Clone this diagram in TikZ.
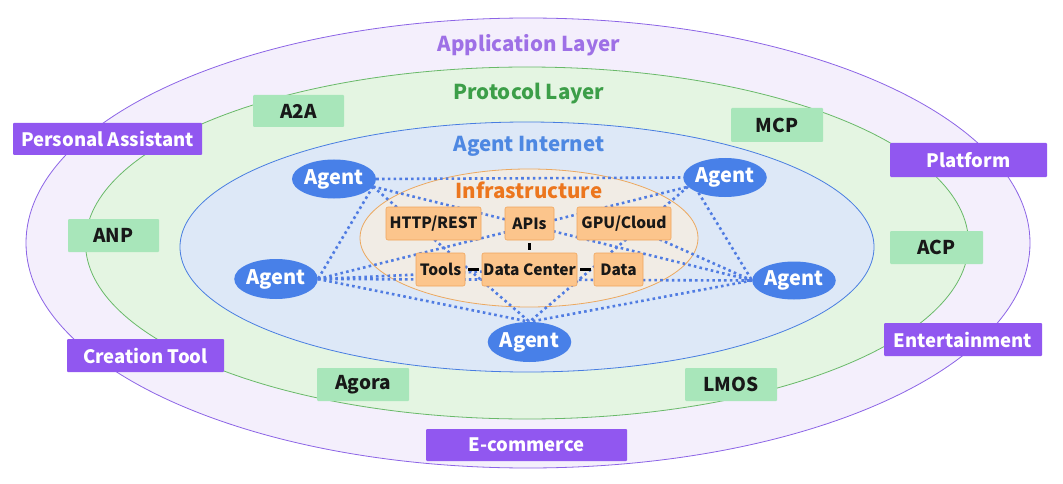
\documentclass[tikz,border=0pt]{standalone}
\usepackage{fontspec}
\setmainfont{Noto Sans CJK SC}
\usetikzlibrary{shapes.geometric}
\definecolor{appfill}{RGB}{244,239,252}
\definecolor{appline}{RGB}{140,100,230}
\definecolor{applabel}{RGB}{158,112,230}
\definecolor{protfill}{RGB}{228,245,226}
\definecolor{protline}{RGB}{105,185,105}
\definecolor{protlabel}{RGB}{60,158,72}
\definecolor{netfill}{RGB}{221,232,247}
\definecolor{netline}{RGB}{72,125,225}
\definecolor{netlabel}{RGB}{78,136,226}
\definecolor{infrafill}{RGB}{241,236,229}
\definecolor{infraline}{RGB}{236,168,95}
\definecolor{infralabel}{RGB}{236,118,30}
\definecolor{purplebox}{RGB}{145,87,240}
\definecolor{greenbox}{RGB}{168,230,186}
\definecolor{orangebox}{RGB}{252,197,140}
\definecolor{orangeedge}{RGB}{240,165,92}
\definecolor{agentfill}{RGB}{72,128,232}
\definecolor{dotblue}{RGB}{80,124,226}
\definecolor{darktext}{RGB}{24,24,24}
\pgfdeclarelayer{back}
\pgfdeclarelayer{mid}
\pgfsetlayers{back,mid,main}
\tikzset{
  layerlabel/.style={font=\fontsize{20.5}{22}\selectfont\bfseries},
  appbox/.style={fill=purplebox, text=white, rounded corners=1pt, inner sep=0pt,
    font=\fontsize{18.5}{21}\selectfont\bfseries},
  protbox/.style={fill=greenbox, text=darktext, rounded corners=1pt, inner sep=0pt,
    font=\fontsize{19}{21}\selectfont\bfseries},
  infrabox/.style={fill=orangebox, draw=orangeedge, line width=0.6pt, text=darktext,
    rounded corners=2pt, inner sep=0pt, font=\fontsize{15.5}{18}\selectfont\bfseries},
  agentnode/.style={ellipse, fill=agentfill, text=white, inner sep=0pt,
    font=\fontsize{20}{22}\selectfont\bfseries},
  meshline/.style={draw=dotblue, line width=2.6pt, dash pattern=on 2.6pt off 3.2pt},
  infralink/.style={draw=black, line width=2.6pt, shorten <=2.8pt, shorten >=2.8pt},
}
\begin{document}
\begin{tikzpicture}[x=1pt,y=-1pt]
\path[use as bounding box] (0,0) rectangle (1063,484);
\begin{pgfonlayer}{back}
  \path[fill=appfill, draw=appline, line width=0.8pt] (528,243) ellipse [x radius=502, y radius=225];
  \path[fill=protfill, draw=protline, line width=0.8pt] (527,243) ellipse [x radius=441.5, y radius=176];
  \path[fill=netfill, draw=netline, line width=0.8pt] (527,247) ellipse [x radius=347, y radius=125];
  \path[fill=infrafill, draw=infraline, line width=0.8pt] (529,238) ellipse [x radius=169, y radius=69];
\end{pgfonlayer}

\node[layerlabel, text=applabel] (applbl) at (529,45) {Application Layer};
\node[layerlabel, text=protlabel] (protlbl) at (529,94) {Protocol Layer};
\node[layerlabel, text=netlabel] (netlbl) at (529,146) {Agent Internet};
\node[layerlabel, text=infralabel] (infralbl) at (529,190) {Infrastructure};

% application boxes
\node[appbox, minimum width=189pt, minimum height=32pt] (pa) at (107.5,139) {Personal Assistant};
\node[appbox, minimum width=157pt, minimum height=34pt] (pf) at (968.5,160) {Platform};
\node[appbox, minimum width=157pt, minimum height=33pt] (ct) at (145.5,355.5) {Creation Tool};
\node[appbox, minimum width=158pt, minimum height=33pt] (et) at (963,339.5) {Entertainment};
\node[appbox, minimum width=201pt, minimum height=32pt] (ec) at (526.5,445) {E-commerce};

% protocol boxes
\node[protbox, minimum width=91pt, minimum height=32pt] (a2a) at (298.5,111) {A2A};
\node[protbox, minimum width=92pt, minimum height=34pt] (mcp) at (777,125) {MCP};
\node[protbox, minimum width=91pt, minimum height=33pt] (anp) at (113.5,235.5) {ANP};
\node[protbox, minimum width=93pt, minimum height=33pt] (acp) at (936.5,247.5) {ACP};
\node[protbox, minimum width=92pt, minimum height=33pt] (agora) at (363,384.5) {Agora};
\node[protbox, minimum width=92pt, minimum height=33pt] (lmos) at (731,384.5) {LMOS};

% infrastructure boxes
\node[infrabox, minimum width=95pt, minimum height=33pt] (http) at (433.5,223.5) {HTTP/REST};
\node[infrabox, minimum width=49pt, minimum height=33pt] (apis) at (529.5,223.5) {APIs};
\node[infrabox, minimum width=94pt, minimum height=33pt] (gpu) at (624,223.5) {GPU/Cloud};
\node[infrabox, minimum width=49pt, minimum height=33pt] (tools) at (440.5,269.5) {Tools};
\node[infrabox, minimum width=95pt, minimum height=33pt] (dc) at (529.5,269.5) {Data Center};
\node[infrabox, minimum width=49pt, minimum height=33pt] (data) at (618.5,269.5) {Data};

\draw[infralink] (apis) -- (dc);
\draw[infralink] (tools) -- (dc);
\draw[infralink] (dc) -- (data);

% agents
\node[agentnode, minimum width=84pt, minimum height=39pt] (atl) at (334,179) {Agent};
\node[agentnode, minimum width=83pt, minimum height=39pt] (atr) at (725,177.5) {Agent};
\node[agentnode, minimum width=80pt, minimum height=40pt] (al) at (276,279) {Agent};
\node[agentnode, minimum width=80pt, minimum height=38pt] (ar) at (794,280.5) {Agent};
\node[agentnode, minimum width=81pt, minimum height=40pt] (ab) at (529.5,342) {Agent};

\begin{pgfonlayer}{mid}
  \draw[meshline] (atl.east) -- (atr.west);
  \draw[meshline] (atl.-11) -- (ar.west);
  \draw[meshline] (atl.-11) -- (ab.north);
  \draw[meshline] (atl.-11) -- (al.east);
  \draw[meshline] (al.east) -- (atr.-166);
  \draw[meshline] (al.east) -- (ar.west);
  \draw[meshline] (al.east) -- (ab.north);
  \draw[meshline] (al.east) -- (dc.center);
  \draw[meshline] (atr.-166) -- (ab.north);
  \draw[meshline] (atr.-150) -- (ar.west);
  \draw[meshline] (ar.west) -- (ab.north);
  \draw[meshline] (ar.west) -- (gpu.center);
\end{pgfonlayer}
\end{tikzpicture}
\end{document}
